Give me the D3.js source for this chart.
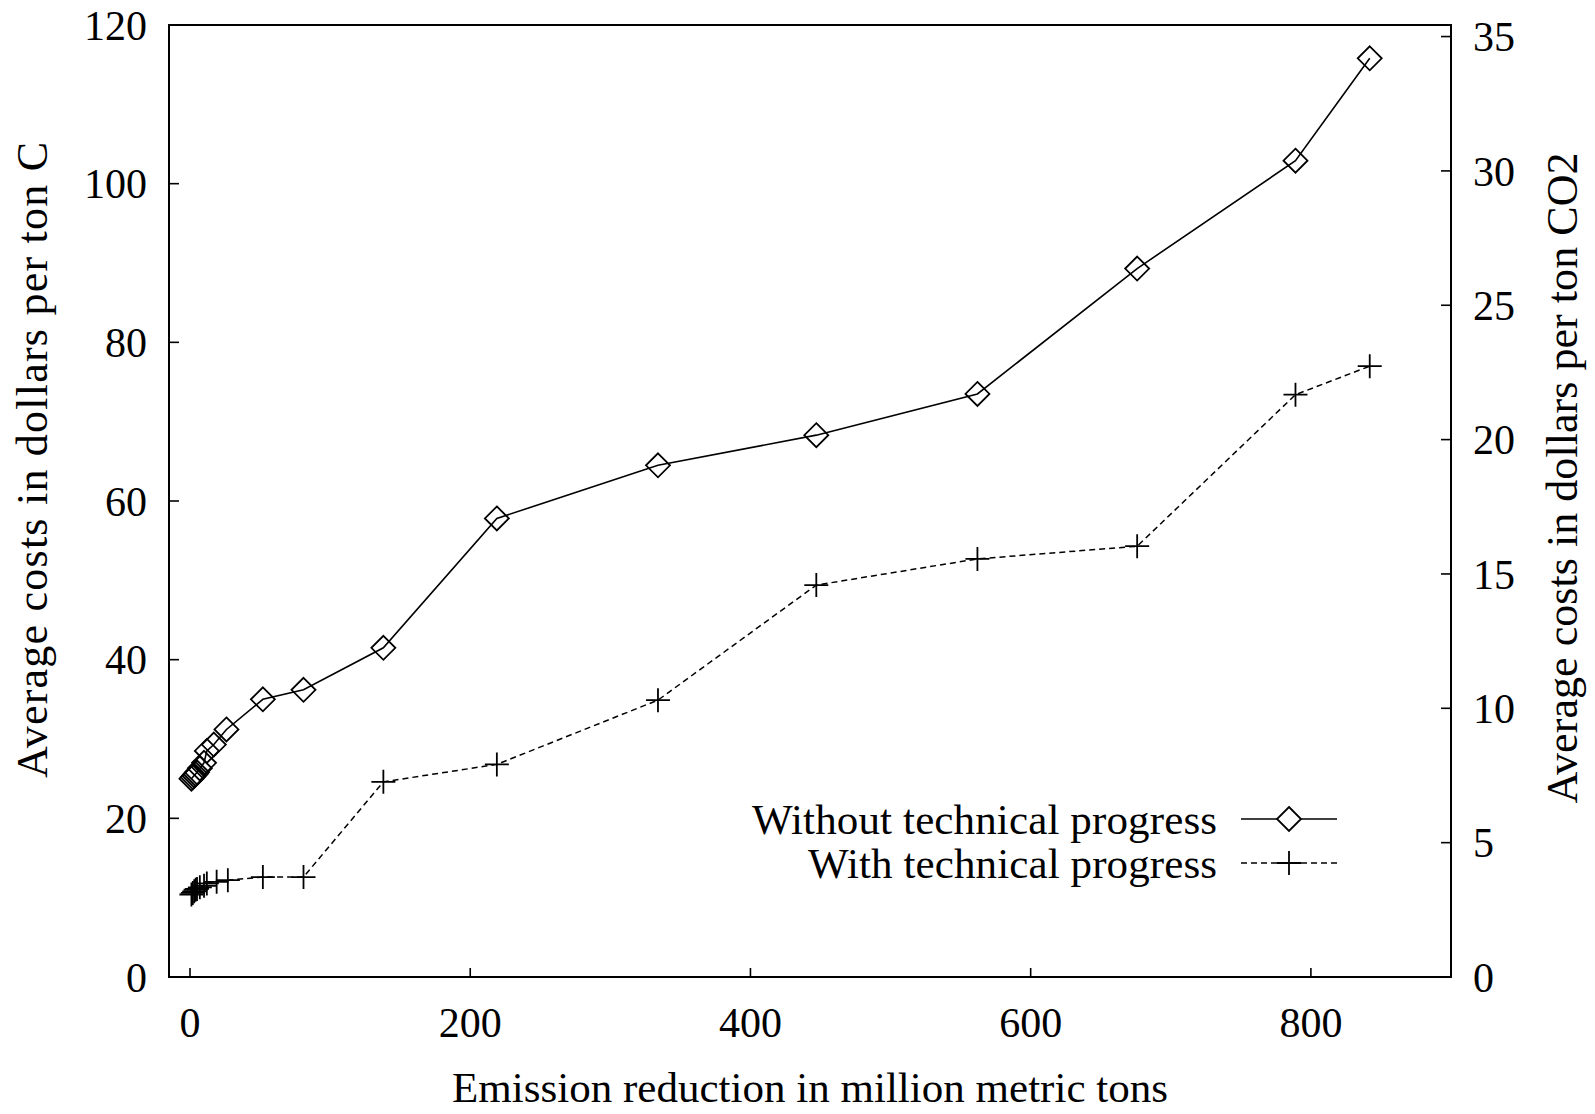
<!DOCTYPE html>
<html>
<head>
<meta charset="utf-8">
<script src="https://cdn.jsdelivr.net/npm/d3@7"></script>
<style>
  html, body { margin: 0; padding: 0; background: #fff; }
  text { font-family: "Liberation Serif", "Times New Roman", serif; fill: #000; }
</style>
</head>
<body>
<svg id="chart" width="1595" height="1114"></svg>
<script>
// ---- data ----
const withoutX = [1, 2, 3, 4, 5, 7, 10, 12, 17, 26, 52, 81, 138, 219, 334, 447, 562, 676, 789, 842];
const withoutY = [25.0, 25.2, 25.4, 25.6, 25.8, 26.3, 27.0, 28.5, 29.3, 31.2, 35.0, 36.2, 41.5, 57.8, 64.5, 68.3, 73.5, 89.3, 102.9, 115.8];
const withX = [1, 2, 3, 4, 5, 7, 10, 12, 19, 27, 52, 81, 138, 219, 334, 447, 562, 676, 789, 842];
const withY = [10.4, 10.6, 10.8, 11.0, 11.1, 11.3, 11.5, 11.8, 12.0, 12.2, 12.6, 12.6, 24.6, 26.8, 34.9, 49.4, 52.7, 54.3, 73.4, 77.0];
const xTicks = [0, 200, 400, 600, 800];
const yTicks = [0, 20, 40, 60, 80, 100, 120];
const y2Ticks = [0, 5, 10, 15, 20, 25, 30, 35];
const seriesNames = ["Without technical progress", "With technical progress"];
const xLabel = "Emission reduction in million metric tons";
const yLabel = "Average costs in dollars per ton C";
const y2Label = "Average costs in dollars per ton CO2";

// ---- layout ----
const svg = d3.select("#chart");
const L = 169, R = 1451, T = 25, B = 977;
const x = d3.scaleLinear().domain([-15, 900]).range([L, R]);
const y = d3.scaleLinear().domain([0, 120]).range([B, T]);
const y2 = d3.scaleLinear().domain([0, 35.43]).range([B, T]);
const FS = 42;

// frame
svg.append("rect").attr("x", L).attr("y", T).attr("width", R - L).attr("height", B - T)
  .attr("fill", "none").attr("stroke", "#000").attr("stroke-width", 2);

// ticks (inward)
const g = svg.append("g").attr("stroke", "#000").attr("stroke-width", 1.6);
xTicks.forEach(t => g.append("line").attr("x1", x(t)).attr("x2", x(t)).attr("y1", B).attr("y2", B - 9));
yTicks.forEach(t => g.append("line").attr("x1", L).attr("x2", L + 10).attr("y1", y(t)).attr("y2", y(t)));
y2Ticks.forEach(t => g.append("line").attr("x1", R).attr("x2", R - 10).attr("y1", y2(t)).attr("y2", y2(t)));

// tick labels
xTicks.forEach(t => svg.append("text").attr("x", x(t)).attr("y", 1022).attr("dy", "0.35em")
  .attr("text-anchor", "middle").attr("font-size", FS).text(t));
yTicks.forEach(t => svg.append("text").attr("x", 147).attr("y", y(t)).attr("dy", "0.35em")
  .attr("text-anchor", "end").attr("font-size", FS).text(t));
y2Ticks.forEach(t => svg.append("text").attr("x", 1473).attr("y", y2(t)).attr("dy", "0.35em")
  .attr("text-anchor", "start").attr("font-size", FS).text(t));

// axis labels
svg.append("text").attr("x", 810).attr("y", 1102).attr("text-anchor", "middle")
  .attr("font-size", 43).attr("textLength", 716).attr("lengthAdjust", "spacing").text(xLabel);
svg.append("text").attr("transform", "translate(47,460) rotate(-90)")
  .attr("text-anchor", "middle").attr("font-size", 44)
  .attr("textLength", 636).attr("lengthAdjust", "spacing").text(yLabel);
svg.append("text").attr("transform", "translate(1577,478) rotate(-90)")
  .attr("text-anchor", "middle").attr("font-size", 44)
  .attr("textLength", 651).attr("lengthAdjust", "spacing").text(y2Label);

// series
const line = d3.line().x(d => x(d[0])).y(d => y(d[1]));
const d1 = withoutX.map((v, i) => [v, withoutY[i]]);
const d2 = withX.map((v, i) => [v, withY[i]]);

svg.append("path").datum(d2).attr("d", line).attr("fill", "none").attr("stroke", "#000")
  .attr("stroke-width", 1.5).attr("stroke-dasharray", "6,4");
svg.append("path").datum(d1).attr("d", line).attr("fill", "none").attr("stroke", "#000")
  .attr("stroke-width", 1.6);

const S = 12;
function diamond(cx, cy) {
  return `M${cx},${cy - S}L${cx + S},${cy}L${cx},${cy + S}L${cx - S},${cy}Z`;
}
function plus(cx, cy) {
  return `M${cx - S},${cy}L${cx + S},${cy}M${cx},${cy - S}L${cx},${cy + S}`;
}
svg.append("g").selectAll("path").data(d1).join("path")
  .attr("d", d => diamond(x(d[0]), y(d[1])))
  .attr("fill", "none").attr("stroke", "#000").attr("stroke-width", 1.8);
svg.append("g").selectAll("path").data(d2).join("path")
  .attr("d", d => plus(x(d[0]), y(d[1])))
  .attr("fill", "none").attr("stroke", "#000").attr("stroke-width", 1.8);

// legend
const lx1 = 1241, lx2 = 1337, lxm = 1289;
const ly1 = 819, ly2 = 863;
svg.append("text").attr("x", 1217).attr("y", ly1).attr("dy", "0.35em").attr("text-anchor", "end")
  .attr("font-size", 43).attr("textLength", 465).attr("lengthAdjust", "spacing").text(seriesNames[0]);
svg.append("text").attr("x", 1217).attr("y", ly2).attr("dy", "0.35em").attr("text-anchor", "end")
  .attr("font-size", 43).attr("textLength", 409).attr("lengthAdjust", "spacing").text(seriesNames[1]);
svg.append("line").attr("x1", lx1).attr("x2", lx2).attr("y1", ly1).attr("y2", ly1)
  .attr("stroke", "#000").attr("stroke-width", 1.6);
svg.append("path").attr("d", diamond(lxm, ly1)).attr("fill", "#fff").attr("stroke", "#000").attr("stroke-width", 1.8);
svg.append("line").attr("x1", lx1).attr("x2", lx2).attr("y1", ly2).attr("y2", ly2)
  .attr("stroke", "#000").attr("stroke-width", 1.5).attr("stroke-dasharray", "6,4");
svg.append("path").attr("d", plus(lxm, ly2)).attr("fill", "none").attr("stroke", "#000").attr("stroke-width", 1.8);
</script>
</body>
</html>
